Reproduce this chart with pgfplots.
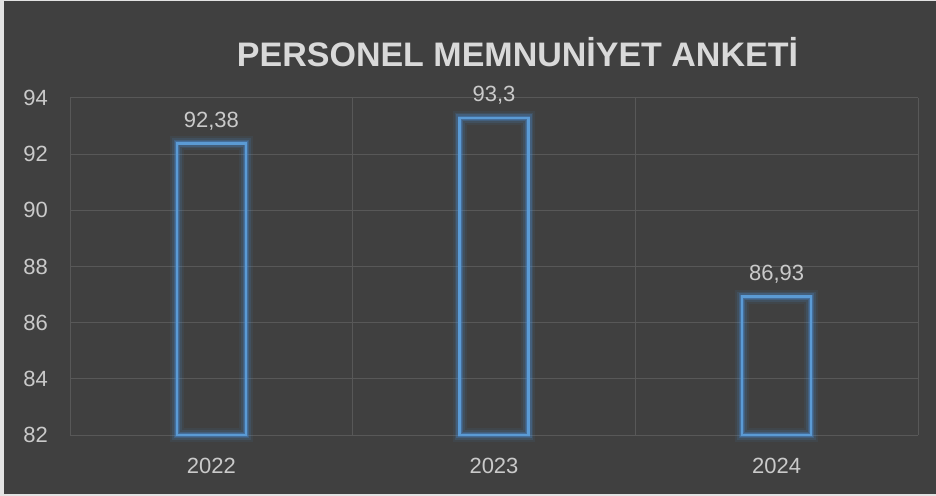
\documentclass[border=0pt]{standalone}
\usepackage{pgfplots}
\pgfplotsset{compat=1.18}
\usepackage{pgfplotstable}
\usepackage{fontspec}
\setmainfont{Liberation Sans}
\definecolor{bg}{HTML}{404040}
\definecolor{framec}{HTML}{E3E3E3}
\definecolor{gridc}{HTML}{585858}
\definecolor{txt}{HTML}{D9D9D9}
\definecolor{lbl}{HTML}{CACACA}
\definecolor{barc}{HTML}{5B9BD5}
\definecolor{glowc}{HTML}{4A8FD8}

% bar outlines (rectangles from the axis base 82 up to each value)
\pgfplotstableread{
x y
0 82
0.122 82
0.122 92.38
-0.122 92.38
-0.122 82
0 82
0 nan
1 82
1.122 82
1.122 93.3
0.878 93.3
0.878 82
1 82
1 nan
2 82
2.122 82
2.122 86.93
1.878 86.93
1.878 82
2 82
}\bars

\pgfplotstableread{
x y
0 92.38
1 93.3
2 86.93
}\vals

\begin{document}
\begin{tikzpicture}
\fill[framec] (0bp,0bp) rectangle (936bp,496bp);
\fill[bg] (4bp,2bp) rectangle (936bp,495bp);
\node[anchor=base, text=txt, font=\fontsize{34bp}{40bp}\selectfont\bfseries, inner sep=0pt] at (517.5bp,429bp) {PERSONEL MEMNUNİYET ANKETİ};
\begin{axis}[at={(70bp,61bp)}, anchor=south west, scale only axis,
  width=848bp, height=337bp,
  xmin=-0.5, xmax=2.5, ymin=82, ymax=94,
  ytick={82,84,...,94}, xtick={0,1,2}, xticklabels={2022,2023,2024},
  minor xtick={-0.5,0.5,1.5,2.5}, xminorgrids, ymajorgrids,
  grid style={gridc, line width=1bp},
  minor grid style={gridc, line width=1bp},
  axis line style={draw=none}, major tick length=0pt, minor tick length=0pt,
  tick label style={text=lbl, font=\fontsize{22bp}{26bp}\selectfont},
  /pgf/number format/assume math mode=true,
  yticklabel style={anchor=east, inner sep=0pt, xshift=-22bp},
  xticklabel style={anchor=north, inner sep=0pt, yshift=-23bp},
  unbounded coords=jump, clip=false, line join=miter]
\addplot[glowc, line width=14bp, opacity=0.08, mark=none] table {\bars};
\addplot[glowc, line width=10bp, opacity=0.14, mark=none] table {\bars};
\addplot[glowc, line width=6.5bp, opacity=0.25, mark=none] table {\bars};
\addplot[glowc, line width=4bp, opacity=0.35, mark=none] table {\bars};
\addplot[barc, line width=2.2bp, mark=none] table {\bars};
\addplot[draw=none, mark=none, point meta=y,
  nodes near coords={\pgfmathprintnumber[use comma,precision=2,assume math mode=true]{\pgfplotspointmeta}},
  nodes near coords style={text=lbl, font=\fontsize{22bp}{26bp}\selectfont, anchor=base, inner sep=0pt, yshift=16bp}] table {\vals};
\end{axis}
\end{tikzpicture}
\end{document}
